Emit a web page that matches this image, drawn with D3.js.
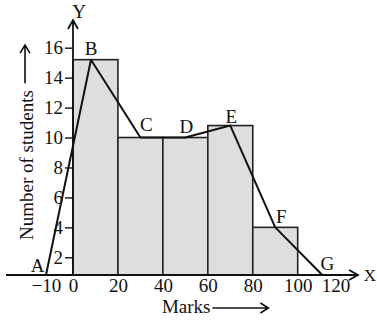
<!DOCTYPE html>
<html>
<head>
<meta charset="utf-8">
<script src="https://cdn.jsdelivr.net/npm/d3@7"></script>
<style>
  body { margin: 0; background: #fff; }
  text { font-family: "Liberation Serif", "Times New Roman", serif; fill: #111; }
</style>
</head>
<body>
<div id="chart"></div>
<script>
// class intervals and frequencies
const classEdges = [0, 20, 40, 60, 80, 100];
const frequencies = [15.2, 10, 10, 10.8, 4];

// frequency polygon vertices
const pointNames = ["A", "B", "C", "D", "E", "F", "G"];
const pointMarks = [-10, 8, 30, 50, 70, 90, 113];
const pointFreqs = [0, 15.2, 10, 10, 10.8, 4, 0];

const xTicks = [-10, 0, 20, 40, 60, 80, 100, 120];
const yTicks = [2, 4, 6, 8, 10, 12, 14, 16];

const width = 377,
  height = 320;

const svg = d3
  .select("#chart")
  .append("svg")
  .attr("width", width)
  .attr("height", height)
  .attr("viewBox", [0, 0, width, height]);

// hand drawn axes: spacing is not quite even, so piecewise scales
const x = d3
  .scaleLinear()
  .domain([-10, 0, 100, 120])
  .range([46, 73, 297.7, 335.5]);

const y = d3
  .scaleLinear()
  .domain([0, 2, 16])
  .range([275, 257.3, 47.7]);

// bars
svg
  .append("g")
  .selectAll("rect")
  .data(frequencies)
  .join("rect")
  .attr("x", (d, i) => x(classEdges[i]))
  .attr("width", (d, i) => x(classEdges[i + 1]) - x(classEdges[i]))
  .attr("y", (d) => y(d))
  .attr("height", (d) => y(0) - y(d))
  .attr("fill", "#dedede")
  .attr("stroke", "#222")
  .attr("stroke-width", 1.6);

// y ticks
const yAxis = svg
  .append("g")
  .attr("transform", `translate(${x(0)},0)`)
  .call(d3.axisLeft(y).tickValues(yTicks).tickSize(8).tickPadding(2));
yAxis.select(".domain").remove();
yAxis.selectAll("line").attr("stroke", "#111").attr("stroke-width", 1.4);
yAxis
  .selectAll("text")
  .attr("font-size", 19)
  .attr("fill", "#111")
  .style("font-family", '"Liberation Serif", serif');

// x tick labels (no tick marks)
const xAxis = svg
  .append("g")
  .attr("transform", `translate(0,${y(0)})`)
  .call(d3.axisBottom(x).tickValues(xTicks).tickSize(0).tickPadding(3.5));
xAxis.select(".domain").remove();
xAxis
  .selectAll("text")
  .attr("font-size", 19)
  .attr("fill", "#111")
  .style("font-family", '"Liberation Serif", serif');

// axis lines with open arrow heads
const axisTop = 20,
  axisRight = 358,
  axisLeftEnd = 6;

svg
  .append("path")
  .attr("d", `M${axisLeftEnd},${y(0)}H${axisRight}M${axisRight - 9},${y(0) - 5}L${axisRight},${y(0)}L${axisRight - 9},${y(0) + 5}`)
  .attr("fill", "none")
  .attr("stroke", "#111")
  .attr("stroke-width", 1.8);

svg
  .append("path")
  .attr("d", `M${x(0)},${y(0)}V${axisTop}M${x(0) - 5},${axisTop + 9}L${x(0)},${axisTop}L${x(0) + 5},${axisTop + 9}`)
  .attr("fill", "none")
  .attr("stroke", "#111")
  .attr("stroke-width", 1.8);

svg
  .append("text")
  .attr("x", axisRight + 12)
  .attr("y", y(0) + 6)
  .attr("text-anchor", "middle")
  .attr("font-size", 17)
  .text("X");

svg
  .append("text")
  .attr("x", x(0) + 6)
  .attr("y", axisTop - 2)
  .attr("text-anchor", "middle")
  .attr("font-size", 19)
  .text("Y");

// frequency polygon
const points = pointMarks.map((m, i) => ({
  name: pointNames[i],
  mark: m,
  freq: pointFreqs[i],
}));

const line = d3
  .line()
  .x((d) => x(d.mark))
  .y((d) => y(d.freq));

svg
  .append("path")
  .datum(points)
  .attr("d", line)
  .attr("fill", "none")
  .attr("stroke", "#111")
  .attr("stroke-width", 2)
  .attr("stroke-linejoin", "round");

// label nudges, in pixels
const labelShift = {
  A: [-8.5, -3],
  B: [0, -5],
  C: [6, -7],
  D: [1, -4.5],
  E: [1, -3],
  F: [6, -4],
  G: [5, -5],
};

svg
  .append("g")
  .selectAll("text")
  .data(points)
  .join("text")
  .attr("x", (d) => x(d.mark) + labelShift[d.name][0])
  .attr("y", (d) => y(d.freq) + labelShift[d.name][1])
  .attr("text-anchor", "middle")
  .attr("font-size", 19)
  .text((d) => d.name);

// axis titles with trailing arrows
const xTitle = svg
  .append("text")
  .attr("x", x(40) - 1)
  .attr("y", 313)
  .attr("font-size", 19)
  .text("Marks");
const xEnd = x(40) - 1 + xTitle.node().getComputedTextLength() + 2;

svg
  .append("path")
  .attr("d", `M${xEnd},308H${xEnd + 56}M${xEnd + 48},303L${xEnd + 56},308L${xEnd + 48},313`)
  .attr("fill", "none")
  .attr("stroke", "#111")
  .attr("stroke-width", 1.6);

const yTitle = svg
  .append("text")
  .attr("transform", "translate(33,240) rotate(-90)")
  .attr("font-size", 19)
  .text("Number of students");
const yEnd = 240 - yTitle.node().getComputedTextLength() - 7;

svg
  .append("path")
  .attr("d", `M25,${yEnd}V${yEnd - 38}M20,${yEnd - 30}L25,${yEnd - 38}L30,${yEnd - 30}`)
  .attr("fill", "none")
  .attr("stroke", "#111")
  .attr("stroke-width", 1.6);
</script>
</body>
</html>
